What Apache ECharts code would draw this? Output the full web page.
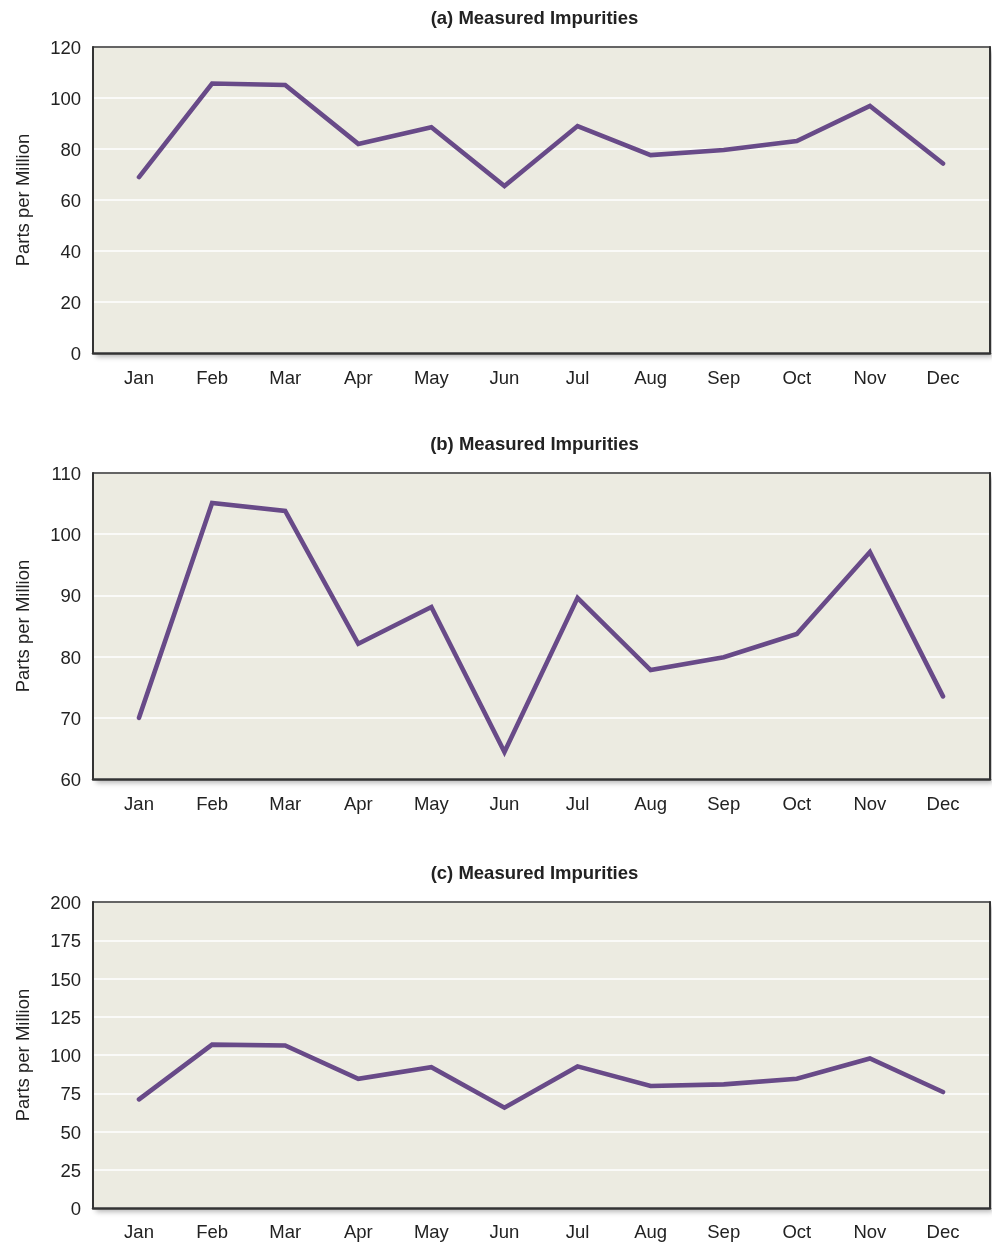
<!DOCTYPE html>
<html>
<head>
<meta charset="utf-8">
<style>
  html, body { margin: 0; padding: 0; background: #ffffff; }
  #chart { width: 992px; height: 1242px; }
</style>
<script src="https://cdn.jsdelivr.net/npm/echarts@6/dist/echarts.min.js"></script>
</head>
<body>
<div id="chart"></div>
<script>
// Monthly impurity readings (parts per million), drawn on three different y scales
const months = ['Jan', 'Feb', 'Mar', 'Apr', 'May', 'Jun', 'Jul', 'Aug', 'Sep', 'Oct', 'Nov', 'Dec'];

const valuesA = [69, 105.7, 105.1, 82, 88.5, 65.5, 89, 77.6, 79.6, 83.1, 96.9, 74.3];
const valuesB = [70, 105.1, 103.8, 82.1, 88.1, 64.4, 89.6, 77.8, 79.9, 83.7, 97.1, 73.5];
const valuesC = [70.6, 106.5, 105.9, 84.1, 91.7, 65.1, 92.2, 79.3, 80.4, 84.1, 97.4, 75.4];

const titles = ['(a) Measured Impurities', '(b) Measured Impurities', '(c) Measured Impurities'];
const yName = 'Parts per Million';

// y scale per panel: [min, max, interval]
const scales = [[0, 120, 20], [60, 110, 10], [0, 200, 25]];
const panelData = [valuesA, valuesB, valuesC];

const FONT = '"Liberation Sans", Arial, Helvetica, sans-serif';
const TXT = '#222222';
const EDGE = '#333333';
const frameLeft = 93, frameWidth = 897, plotH = 306;
const dataLeft = 139, dataWidth = 804;
const tops = [47, 473, 902];
const titleTops = [4, 430, 859];

const grid = [], xAxis = [], yAxis = [], series = [], title = [];

// plain axis used only to draw one edge of a panel frame
function edgeAxis(gridIndex, position, width) {
  return {
    gridIndex, position, type: 'value', min: 0, max: 1,
    axisLine: { show: true, onZero: false, lineStyle: { color: EDGE, width } },
    axisTick: { show: false }, axisLabel: { show: false }, splitLine: { show: false }
  };
}

tops.forEach((top, p) => {
  const [mn, mx, iv] = scales[p];
  const gf = grid.length;
  // framed background panel with a soft drop shadow to the lower right
  grid.push({
    left: frameLeft, width: frameWidth, top: top, height: plotH,
    show: true, backgroundColor: '#ECEBE1', borderWidth: 0,
    shadowColor: 'rgba(0,0,0,0.28)', shadowBlur: 5, shadowOffsetX: 3, shadowOffsetY: 4
  });
  const gd = grid.length;
  // data area, inset so the months sit away from the frame edges
  grid.push({ left: dataLeft, width: dataWidth, top: top, height: plotH });

  // frame edges
  xAxis.push(edgeAxis(gf, 'bottom', 2.5));
  xAxis.push(edgeAxis(gf, 'top', 1.5));
  yAxis.push({
    gridIndex: gf, position: 'left', type: 'value', min: mn, max: mx, interval: iv,
    axisLine: { show: true, onZero: false, lineStyle: { color: EDGE, width: 2 } },
    axisTick: { show: false },
    axisLabel: {
      margin: 12,
      formatter: v => '{v|' + v + '}',
      rich: { v: { fontFamily: FONT, fontSize: 18.5, color: TXT, padding: [4, 0, 0, 0] } }
    },
    splitLine: { show: true, lineStyle: { color: '#ffffff', width: 1.5 } },
    name: yName, nameLocation: 'middle', nameRotate: 90, nameGap: 60,
    nameTextStyle: { fontFamily: FONT, fontSize: 18.5, color: TXT }
  });
  yAxis.push(edgeAxis(gf, 'right', 2));

  const xi = xAxis.length;
  xAxis.push({
    gridIndex: gd, type: 'category', data: months, boundaryGap: false,
    axisLine: { show: false }, axisTick: { show: false }, splitLine: { show: false },
    axisLabel: { fontFamily: FONT, fontSize: 18.5, color: TXT, margin: 16 }
  });
  const yi = yAxis.length;
  yAxis.push({
    gridIndex: gd, type: 'value', min: mn, max: mx, interval: iv,
    axisLine: { show: false }, axisTick: { show: false },
    axisLabel: { show: false }, splitLine: { show: false }
  });
  series.push({
    type: 'line', xAxisIndex: xi, yAxisIndex: yi, data: panelData[p],
    symbol: 'none', smooth: false,
    lineStyle: { color: '#684A88', width: 4.6, cap: 'round', join: 'miter' }
  });
  title.push({
    text: titles[p], left: 529.5, top: titleTops[p], textAlign: 'center',
    textStyle: { fontFamily: FONT, fontSize: 18.5, fontWeight: 'bold', color: TXT }
  });
});

const chart = echarts.init(document.getElementById('chart'), null, { renderer: 'canvas' });
chart.setOption({ animation: false, title, grid, xAxis, yAxis, series });
</script>
</body>
</html>
